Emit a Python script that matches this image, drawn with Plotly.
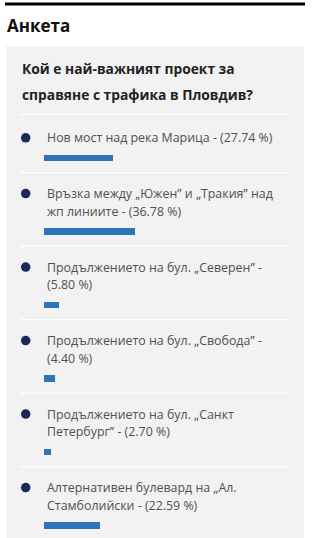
import textwrap
import plotly.graph_objects as go

# ---- data ----
title = "Анкета"
question = "Кой е най-важният проект за справяне с трафика в Пловдив?"
options = [
    "Нов мост над река Марица",
    "Връзка между „Южен” и „Тракия” над жп линиите",
    "Продължението на бул. „Северен”",
    "Продължението на бул. „Свобода”",
    "Продължението на бул. „Санкт Петербург”",
    "Алтернативен булевард на „Ал. Стамболийски",
]
percents = [27.74, 36.78, 5.80, 4.40, 2.70, 22.59]

# ---- layout constants (pixels) ----
W, H = 312, 538
BAR_X0, BAR_FULL = 44.3, 247.0     # bar origin and length of 100 %
TEXT_X = 44.5
BULLET_X = 25.7
SEP0 = 114.3
FIRST_PAD = 2.5
SEP_TO_LINE1, LINE_STEP, LINE_TO_BAR, BAR_TO_SEP = 21.0, 17.7, 20.3, 14.5
BAR_H = 6.5
FONT = "Open Sans"

scale = BAR_FULL / 100.0
def px2x(px):
    return (px - BAR_X0) / scale

# compute row geometry
rows = []
sep = SEP0
seps = [sep]
for k, (name, p) in enumerate(zip(options, percents)):
    label = f"{name} - ({p:.2f} %)"
    lines = textwrap.wrap(label, width=36)
    y1 = sep + SEP_TO_LINE1 + (FIRST_PAD if k == 0 else 0)
    line_ys = [y1 + i * LINE_STEP for i in range(len(lines))]
    bar_y = line_ys[-1] + LINE_TO_BAR
    sep = bar_y + BAR_TO_SEP
    seps.append(sep)
    rows.append((lines, line_ys, bar_y))

fig = go.Figure()

fig.add_trace(go.Bar(
    x=percents, y=[r[2] for r in rows], base=0, orientation="h",
    width=BAR_H, marker=dict(color="#2f74b8", line=dict(width=0)),
    hoverinfo="skip", showlegend=False,
))
fig.add_trace(go.Scatter(
    x=[px2x(BULLET_X)] * len(rows), y=[r[1][0] for r in rows], mode="markers",
    marker=dict(size=9.5, color="#182a56"), hoverinfo="skip", showlegend=False,
))

shapes = [
    dict(type="rect", xref="paper", yref="y", x0=6 / W, x1=304 / W, y0=46, y1=H + 5,
         fillcolor="#f2f2f2", line=dict(width=0), layer="below"),
    dict(type="line", xref="paper", yref="y", x0=5 / W, x1=305 / W, y0=4, y1=4,
         line=dict(color="#000000", width=3)),
]
for s in seps[:-1]:
    shapes.append(dict(type="line", xref="paper", yref="y", x0=20 / W, x1=290 / W,
                       y0=s, y1=s, line=dict(color="#ffffff", width=1.2), layer="below"))

ann = [dict(text=f"<b>{title}</b>", xref="paper", yref="y", x=5 / W, y=25,
            xanchor="left", yanchor="middle", showarrow=False,
            font=dict(family=FONT, size=17, color="#111111"))]
for i, ln in enumerate(textwrap.wrap(question, width=30)):
    ann.append(dict(text=f"<b>{ln}</b>", xref="paper", yref="y", x=20 / W, y=68 + 26.8 * i,
                    xanchor="left", yanchor="middle", showarrow=False,
                    font=dict(family=FONT, size=13.8, color="#222222")))
for lines, line_ys, _ in rows:
    for ln, ly in zip(lines, line_ys):
        ann.append(dict(text=ln, xref="paper", yref="y", x=TEXT_X / W, y=ly,
                        xanchor="left", yanchor="middle", showarrow=False,
                        font=dict(family=FONT, size=12.4, color="#505050")))

fig.update_layout(
    width=W, height=H, margin=dict(l=0, r=0, t=0, b=0),
    paper_bgcolor="#ffffff", plot_bgcolor="rgba(0,0,0,0)",
    xaxis=dict(range=[px2x(0), px2x(W)], visible=False, fixedrange=True),
    yaxis=dict(range=[H, 0], visible=False, fixedrange=True),
    shapes=shapes, annotations=ann, bargap=0,
)

fig.write_html("out.html", config={"displayModeBar": False})
